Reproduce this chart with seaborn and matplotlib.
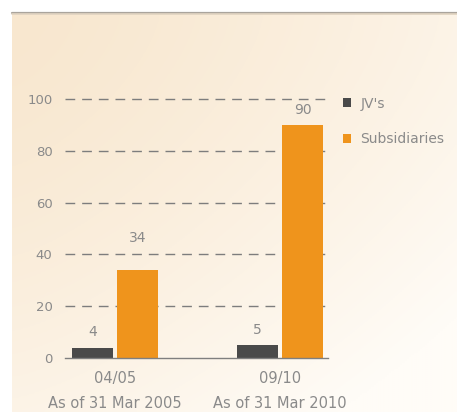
import numpy as np
import pandas as pd
import matplotlib
matplotlib.use("Agg")
import matplotlib.pyplot as plt
from matplotlib.colors import to_rgb
from matplotlib.patches import Patch
import seaborn as sns

# ---- data ----
periods = ["04/05", "09/10"]
period_notes = ["As of 31 Mar 2005", "As of 31 Mar 2010"]
series_names = ["JV's", "Subsidiaries"]
jv_values = [4, 5]
subsidiary_values = [34, 90]
y_ticks = [0, 20, 40, 60, 80, 100]

df = pd.DataFrame({
    "period": periods * 2,
    "series": [series_names[0]] * 2 + [series_names[1]] * 2,
    "value": jv_values + subsidiary_values,
})

sns.set_theme(style="white")
plt.rcParams["font.family"] = ["DejaVu Sans"]

W, H, DPI = 457, 412, 100
fig = plt.figure(figsize=(W / DPI, H / DPI), dpi=DPI, facecolor="white")

# background panel with soft gradient
bg = fig.add_axes([12 / W, 0, 1 - 12 / W, (H - 12) / H])
bg.set_axis_off()
c_tl = np.array(to_rgb("#f8e7cf"))
c_br = np.array(to_rgb("#fffcf7"))
gx, gy = np.meshgrid(np.linspace(0, 1, 200), np.linspace(0, 1, 200))
t = np.clip(0.6 * gx ** 1.3 + 0.6 * gy ** 1.5, 0, 1)[..., None]
img = c_tl * (1 - t) + c_br * t
bg.imshow(img, aspect="auto", extent=[0, 1, 1, 0])
bg.set_xlim(0, 1); bg.set_ylim(1, 0)
# top shadow line
fig.add_artist(plt.Line2D([12 / W, 1], [(H - 12.5) / H] * 2, color="#aaa49c", lw=1.6,
                          transform=fig.transFigure))
fig.add_artist(plt.Line2D([12 / W, 1], [(H - 14) / H] * 2, color="#e2d5c2", lw=1.2,
                          transform=fig.transFigure))

# main axes
ax_left, ax_right = 65, 328
ax_bottom, ax_top = 358, 97
ax = fig.add_axes([ax_left / W, (H - ax_bottom) / H, (ax_right - ax_left) / W,
                   (ax_bottom - ax_top) / H])
ax.patch.set_alpha(0)

palette = {"JV's": "#4a4a4a", "Subsidiaries": "#ef941c"}
sns.barplot(data=df, x="period", y="value", hue="series", order=periods,
            hue_order=series_names, palette=palette, width=0.55, gap=0.1,
            saturation=1, linewidth=0, ax=ax, legend=True)

ax.set_xlim(-0.303, 1.29)
ax.set_ylim(0, 100 * (ax_bottom - ax_top) / (ax_bottom - 99))
ax.set_yticks(y_ticks)
ax.set_yticklabels([str(v) for v in y_ticks])
ax.set_xticks(range(len(periods)))
ax.set_xticklabels([f"{p}\n{n}" for p, n in zip(periods, period_notes)],
                   linespacing=1.85, fontsize=10.5)
ax.set_xlabel("")
ax.set_ylabel("")

for s in ["top", "right", "left"]:
    ax.spines[s].set_visible(False)
ax.spines["bottom"].set_color("#7f7f7f")
ax.spines["bottom"].set_linewidth(1.0)

ax.tick_params(axis="both", length=0, colors="#8a8a8a")
ax.tick_params(axis="y", pad=9, labelsize=9.5)
ax.tick_params(axis="x", pad=9)

# dashed gridlines
ax.set_axisbelow(True)
for v in y_ticks[1:]:
    ax.axhline(v, color="#7d7d7d", lw=1.0, ls=(0, (7, 5)), zorder=0)

# value labels (offsets in points)
label_pads = {"JV's": [6, 6], "Subsidiaries": [18, 6]}
for cont, name in zip(ax.containers, series_names):
    for bar, pad in zip(cont, label_pads[name]):
        ax.annotate(f"{bar.get_height():g}",
                    (bar.get_x() + bar.get_width() / 2, bar.get_height()),
                    xytext=(0, pad), textcoords="offset points",
                    ha="center", va="bottom", fontsize=10, color="#8a8a8a",
                    annotation_clip=False)

# legend
handles = [Patch(facecolor=palette[n], edgecolor="none") for n in series_names]
ax.get_legend().remove()
leg = fig.legend(handles, series_names, loc="upper left",
                 bbox_to_anchor=(330 / W, (H - 84) / H), frameon=False,
                 handlelength=0.6, handleheight=0.6, handletextpad=0.7,
                 labelspacing=1.55, fontsize=10)
for txt in leg.get_texts():
    txt.set_color("#8a8a8a")

fig.savefig("out.png", dpi=DPI, facecolor="white")
